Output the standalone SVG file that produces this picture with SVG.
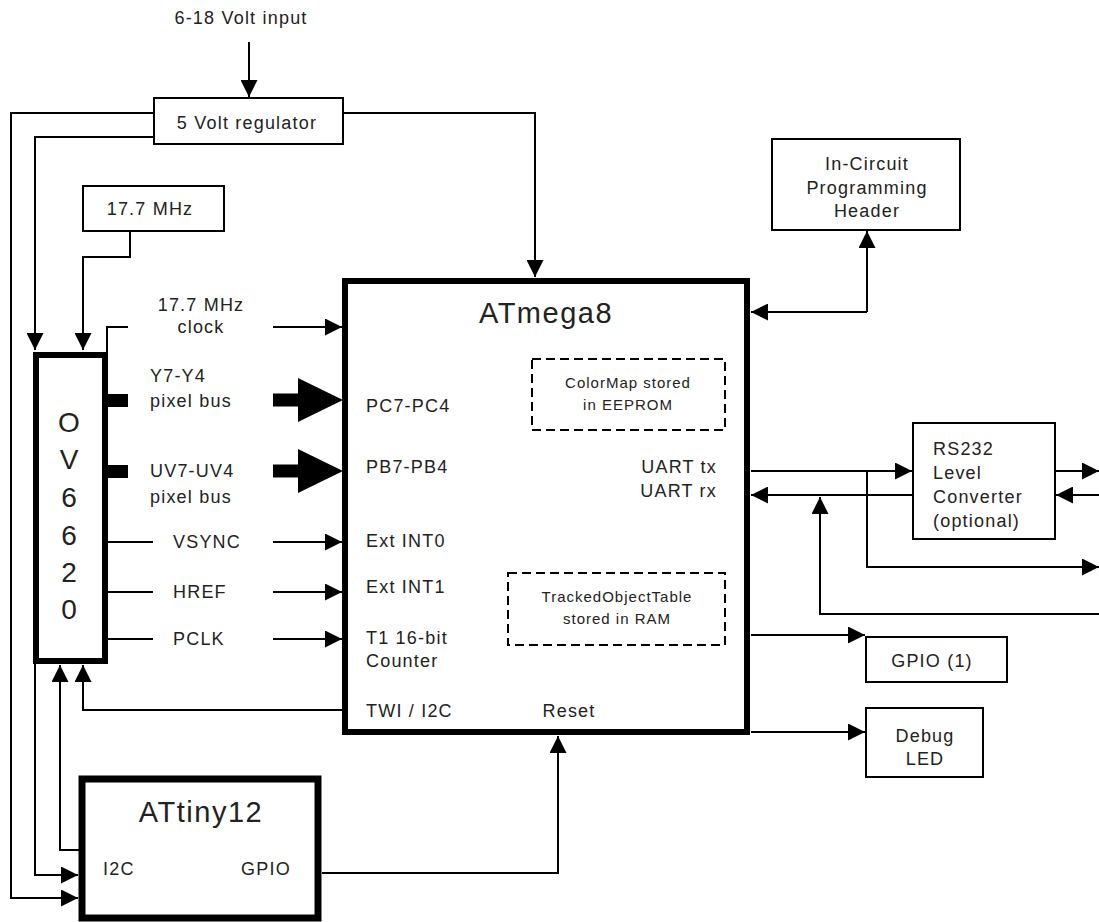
<svg xmlns="http://www.w3.org/2000/svg" width="1099" height="922" viewBox="0 0 1099 922">
<defs>
<marker id="arr" viewBox="0 0 17 17" refX="17" refY="8.5" markerWidth="17" markerHeight="17" markerUnits="userSpaceOnUse" orient="auto-start-reverse">
<path d="M0,0 L17,8.5 L0,17 z" fill="#000"/>
</marker>
</defs>
<style>
text{font-family:"Liberation Sans",Arial,sans-serif;fill:#222;font-size:18px;letter-spacing:1.2px}
.c{text-anchor:middle}
.r{text-anchor:end}
.sm{font-size:15px;letter-spacing:1px}
.big{font-size:29px;letter-spacing:1.5px}
.box{fill:#fff;stroke:#000;stroke-width:2}
.thick{fill:#fff;stroke:#000;stroke-width:6}
.dash{fill:none;stroke:#000;stroke-width:2;stroke-dasharray:9,5}
.ln{fill:none;stroke:#000;stroke-width:2}
.ar{fill:none;stroke:#000;stroke-width:2;marker-end:url(#arr)}
</style>
<rect width="1099" height="922" fill="#fff"/>

<g id="connectors">
<path class="ar" d="M249,42 V97"/>
<path class="ar" d="M343,113 H535 V277"/>
<path class="ar" d="M154,113 H11 V898 H78"/>
<path class="ar" d="M154,137 H35 V350"/>
<path class="ar" d="M35,663 V875 H78"/>
<path class="ar" d="M130,231 V257 H83 V350"/>
<path class="ln" d="M107,352 V327 H128"/>
<path class="ar" d="M273,327 H342"/>
<rect x="107" y="394" width="21" height="13" fill="#000"/>
<rect x="107" y="465" width="21" height="13" fill="#000"/>
<polygon points="273,393.5 298,393.5 298,378 343,400 298,422 298,406.5 273,406.5" fill="#000"/>
<polygon points="273,464.5 298,464.5 298,449 343,471 298,493 298,477.5 273,477.5" fill="#000"/>
<path class="ln" d="M107,542 H153"/>
<path class="ar" d="M273,542 H342"/>
<path class="ln" d="M107,592 H153"/>
<path class="ar" d="M273,592 H342"/>
<path class="ln" d="M107,639 H153"/>
<path class="ar" d="M273,639 H342"/>
<path class="ar" d="M342,710 H83 V665"/>
<path class="ar" d="M79,850 H60 V665"/>
<path class="ar" d="M322,873 H558 V736"/>
<path class="ar" d="M867,312 V231" style="marker-start:none"/>
<path class="ar" d="M867,312 H751"/>
<path class="ar" d="M751,471 H912"/>
<path class="ar" d="M913,495 H751"/>
<path class="ar" d="M867,471 V567 H1099"/>
<path class="ar" d="M1099,614 H820 V497"/>
<path class="ar" d="M1055,471 H1099"/>
<path class="ar" d="M1099,495 H1056"/>
<path class="ar" d="M751,635 H865"/>
<path class="ar" d="M751,732 H865"/>
</g>

<g id="input">
<text class="c" x="241" y="24">6-18 Volt input</text>
</g>

<g id="regulator">
<rect class="box" x="154" y="98" width="189" height="46"/>
<text class="c" x="247" y="129">5 Volt regulator</text>
</g>

<g id="osc">
<rect class="box" x="83" y="186" width="141" height="45"/>
<text class="c" x="150" y="215">17.7 MHz</text>
</g>

<g id="labels-left">
<text class="c" x="201" y="311">17.7 MHz</text>
<text class="c" x="201" y="333">clock</text>
<text x="150" y="382">Y7-Y4</text>
<text x="150" y="407">pixel bus</text>
<text x="150" y="477">UV7-UV4</text>
<text x="150" y="503">pixel bus</text>
<text x="173" y="548">VSYNC</text>
<text x="173" y="598">HREF</text>
<text x="173" y="645">PCLK</text>
</g>

<g id="ov6620">
<rect class="thick" x="36" y="355" width="69" height="306"/>
<text class="c" x="69" y="432" style="font-size:28px;letter-spacing:0">O</text>
<text class="c" x="69" y="469" style="font-size:28px;letter-spacing:0">V</text>
<text class="c" x="69" y="507" style="font-size:28px;letter-spacing:0">6</text>
<text class="c" x="69" y="545" style="font-size:28px;letter-spacing:0">6</text>
<text class="c" x="69" y="582" style="font-size:28px;letter-spacing:0">2</text>
<text class="c" x="69" y="619" style="font-size:28px;letter-spacing:0">0</text>
</g>

<g id="atmega8">
<rect class="thick" x="345" y="281" width="402" height="451"/>
<text class="c big" x="546" y="323">ATmega8</text>
<text x="366" y="412">PC7-PC4</text>
<text x="366" y="473">PB7-PB4</text>
<text x="366" y="547">Ext INT0</text>
<text x="366" y="593">Ext INT1</text>
<text x="366" y="644">T1 16-bit</text>
<text x="366" y="667">Counter</text>
<text x="366" y="717">TWI / I2C</text>
<text class="c" x="569" y="717">Reset</text>
<text class="r" x="717" y="473">UART tx</text>
<text class="r" x="717" y="497">UART rx</text>
</g>

<g id="colormap">
<rect class="dash" x="532" y="359" width="193" height="71"/>
<text class="c sm" x="628" y="388">ColorMap stored</text>
<text class="c sm" x="628" y="410">in EEPROM</text>
</g>

<g id="tracked">
<rect class="dash" x="508" y="573" width="217" height="72"/>
<text class="c sm" x="617" y="602">TrackedObjectTable</text>
<text class="c sm" x="617" y="624">stored in RAM</text>
</g>

<g id="icp">
<rect class="box" x="772" y="139" width="188" height="91"/>
<text class="c" x="867" y="170">In-Circuit</text>
<text class="c" x="867" y="194">Programming</text>
<text class="c" x="867" y="217">Header</text>
</g>

<g id="rs232">
<rect class="box" x="913" y="423" width="142" height="116"/>
<text x="933" y="455">RS232</text>
<text x="933" y="479">Level</text>
<text x="933" y="503">Converter</text>
<text x="933" y="527">(optional)</text>
</g>

<g id="gpio1">
<rect class="box" x="866" y="637" width="141" height="45"/>
<text class="c" x="932" y="667">GPIO (1)</text>
</g>

<g id="debug">
<rect class="box" x="866" y="708" width="117" height="69"/>
<text class="c" x="925" y="742">Debug</text>
<text class="c" x="925" y="765">LED</text>
</g>

<g id="attiny12">
<rect class="thick" x="82" y="779" width="236" height="139" style="stroke-width:7"/>
<text class="c big" x="201" y="822">ATtiny12</text>
<text x="103" y="875">I2C</text>
<text class="c" x="266" y="875">GPIO</text>
</g>
</svg>
